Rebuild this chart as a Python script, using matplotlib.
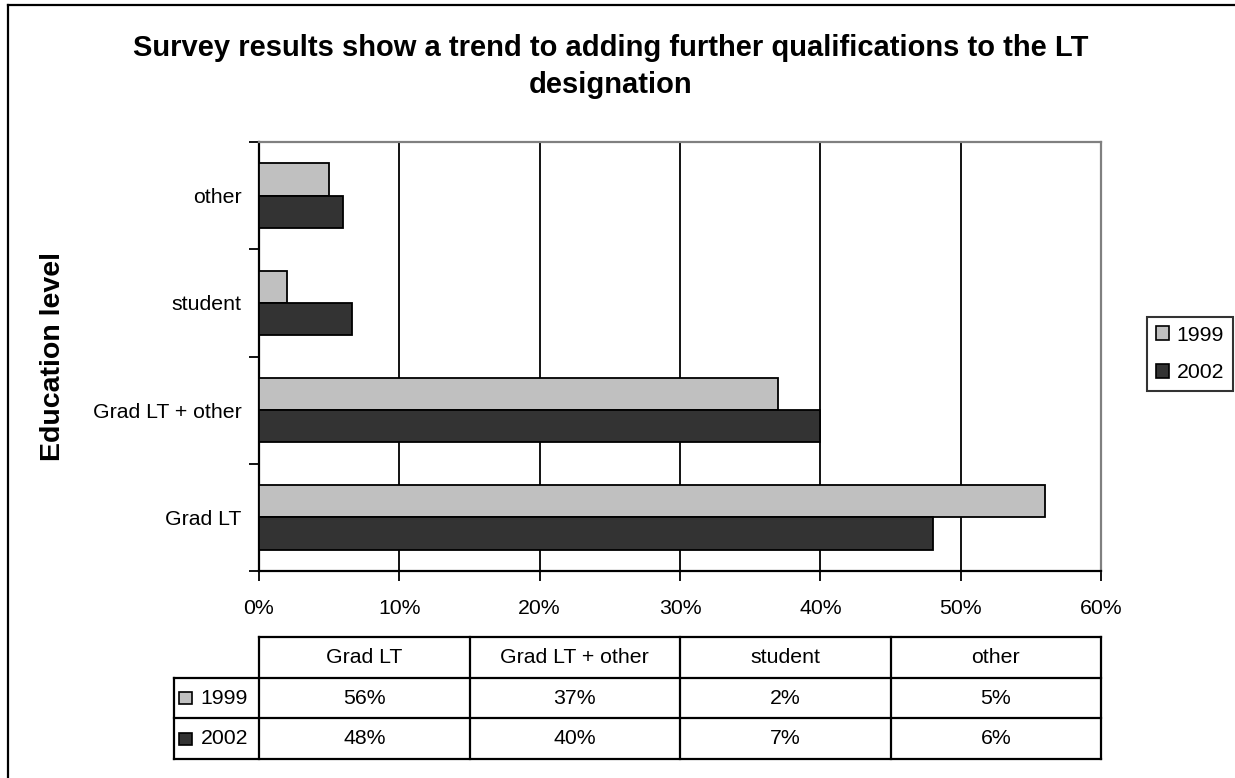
import matplotlib
matplotlib.use("Agg")
import matplotlib.pyplot as plt
from matplotlib.patches import Rectangle
from matplotlib.lines import Line2D
import numpy as np

# --- data -------------------------------------------------------------
categories = ["Grad LT", "Grad LT + other", "student", "other"]
years = ["1999", "2002"]
share_1999 = [56, 37, 2, 5]
share_2002 = [48, 40, 6.6, 6]
x_ticks = [0, 10, 20, 30, 40, 50, 60]
title_lines = ["Survey results show a trend to adding further qualifications to the LT",
               "designation"]
y_title = "Education level"

colors = {"1999": "#C0C0C0", "2002": "#333333"}

plt.rcParams["font.family"] = ["Liberation Sans", "DejaVu Sans"]

W, H = 1235, 778
fig = plt.figure(figsize=(W / 100, H / 100), dpi=100)


def fx(px):
    return px / W


def fy(py):
    return 1 - py / H


# outer chart frame (left and top edges)
fig.add_artist(Line2D([fx(8), fx(8)], [0, fy(5)], color="black", lw=1.6))
fig.add_artist(Line2D([fx(8), 1], [fy(5), fy(5)], color="black", lw=1.6))

# --- bar chart ----------------------------------------------------------
L, R, T, B = 259, 1101, 142, 571
ax = fig.add_axes([fx(L), fy(B), fx(R - L), (B - T) / H])

idx = np.arange(len(categories))
bh = 0.3
ax.barh(idx + bh / 2, share_1999, height=bh, color=colors["1999"],
        edgecolor="black", linewidth=1.3, label="1999", zorder=3)
ax.barh(idx - bh / 2, share_2002, height=bh, color=colors["2002"],
        edgecolor="black", linewidth=1.3, label="2002", zorder=3)

ax.set_xlim(0, 60)
ax.set_ylim(-0.5, len(categories) - 0.5)
ax.set_xticks(x_ticks)
ax.set_xticklabels([f"{t}%" for t in x_ticks], fontsize=15.3)
ax.xaxis.grid(True, color="black", linewidth=1.3, zorder=1)
ax.set_axisbelow(True)

# category boundaries as major ticks, names as minor ticks
ax.set_yticks(np.arange(-0.5, len(categories), 1.0))
ax.set_yticklabels([])
ax.set_yticks(idx, minor=True)
ax.set_yticklabels(categories, minor=True, fontsize=15.3)
ax.tick_params(axis="y", which="major", direction="out", length=7, width=1.3)
ax.tick_params(axis="y", which="minor", length=0, pad=12.5)
ax.tick_params(axis="x", direction="out", length=7, width=1.3, pad=13)

for side in ("top", "right"):
    ax.spines[side].set_color("#808080")
    ax.spines[side].set_linewidth(1.6)
for side in ("left", "bottom"):
    ax.spines[side].set_color("black")
    ax.spines[side].set_linewidth(1.6)

ax.set_ylabel(y_title, fontsize=20.5, fontweight="bold")
ax.yaxis.set_label_coords((66 - L) / (R - L), 0.5)

fig.text(fx(611), fy(56), title_lines[0], ha="center", va="baseline",
         fontsize=21, fontweight="bold")
fig.text(fx(611), fy(93), title_lines[1], ha="center", va="baseline",
         fontsize=21, fontweight="bold")

# --- legend -------------------------------------------------------------
handles = [Rectangle((0, 0), 1, 1, facecolor=colors[y], edgecolor="black", lw=1.2)
           for y in years]
leg = fig.legend(handles, years, loc="center left",
                 bbox_to_anchor=(fx(1147), fy(354)), fontsize=15.3,
                 frameon=True, fancybox=False, edgecolor="black",
                 handlelength=0.62, handleheight=0.62, handletextpad=0.38,
                 borderpad=0.4, labelspacing=0.88, borderaxespad=0)
leg.get_frame().set_linewidth(1.5)

# --- data table ---------------------------------------------------------
TL, TT, TB = 174, 637, 759
tax = fig.add_axes([fx(TL), fy(TB), fx(R - TL), (TB - TT) / H])
x_left = -(L - TL) / (R - L) * 60
tax.set_xlim(x_left, 60)
tax.set_ylim(0, 3)
tax.axis("off")

col_w = 60 / len(categories)
col_edges = [i * col_w for i in range(len(categories) + 1)]
lk = dict(color="black", lw=1.6, clip_on=False)
tax.plot([0, 60], [3, 3], **lk)
for yv in (2, 1, 0):
    tax.plot([x_left, 60], [yv, yv], **lk)
tax.plot([x_left, x_left], [0, 2], **lk)
for xe in col_edges:
    tax.plot([xe, xe], [0, 3], **lk)

for i, cat in enumerate(categories):
    tax.text(col_edges[i] + col_w / 2, 2.5, cat, ha="center", va="center", fontsize=15.3)

rows = [("1999", share_1999), ("2002", share_2002)]
for r, (yr, vals) in enumerate(rows):
    yc = 1.5 - r
    for i, v in enumerate(vals):
        tax.text(col_edges[i] + col_w / 2, yc, f"{v:.0f}%", ha="center",
                 va="center", fontsize=15.3)
    # key swatch and year
    tax.add_patch(Rectangle((x_left + 0.36, yc - 0.15), 0.9, 0.3,
                            facecolor=colors[yr], edgecolor="black", lw=1.2,
                            clip_on=False))
    tax.text(x_left + 1.9, yc, yr, ha="left", va="center", fontsize=15.3)

fig.savefig("out.png", dpi=100)
